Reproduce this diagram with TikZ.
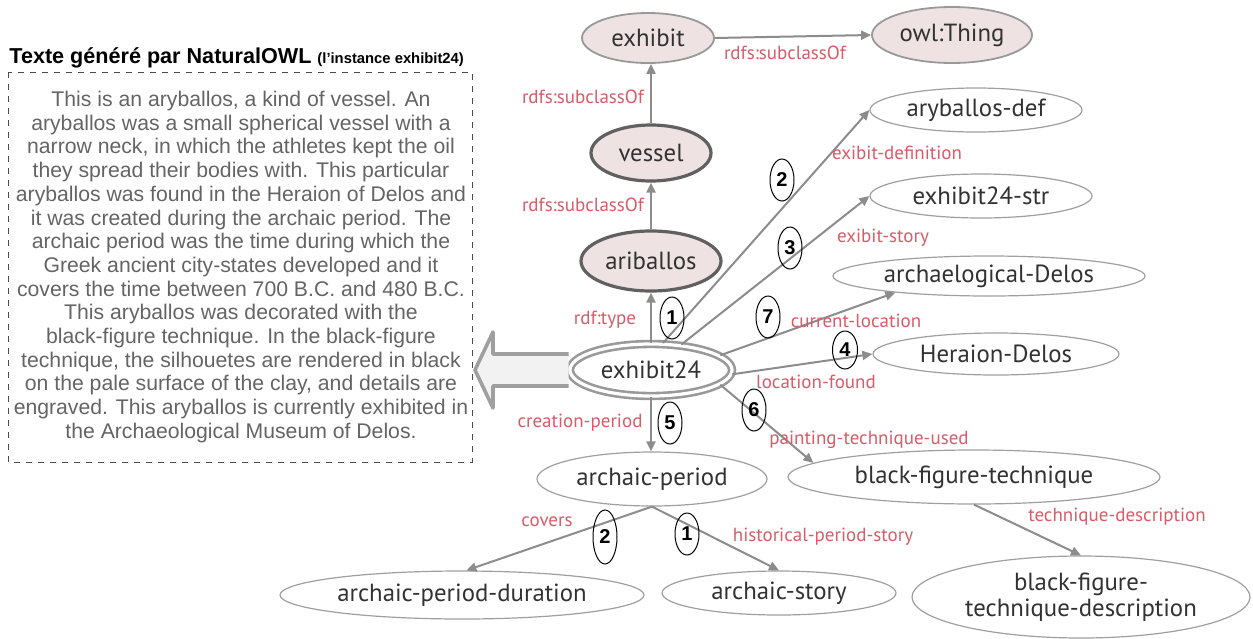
\documentclass[tikz,border=0pt]{standalone}
\usepackage{fontspec}
\setmainfont{Liberation Sans}
\newfontfamily\nodefont{PT Sans}
\usetikzlibrary{shapes.geometric,arrows.meta,calc}
\definecolor{clsfill}{RGB}{238,226,226}
\definecolor{edgegray}{RGB}{140,140,140}
\definecolor{lblred}{RGB}{214,92,104}
\definecolor{txtgray}{RGB}{100,100,100}
\definecolor{nodetxt}{RGB}{50,50,50}
\begin{document}
\begin{tikzpicture}[x=0.5pt,y=-0.5pt,
 base/.style={ellipse, inner sep=0pt, font=\nodefont\fontsize{12.4}{13}\selectfont, text=nodetxt, align=center},
 cls/.style={base, fill=clsfill, draw=gray!80, line width=0.9pt},
 clsb/.style={base, fill=clsfill, draw=gray!75!black, line width=1.6pt},
 inst/.style={base, fill=white, draw=gray!75, line width=0.6pt},
 numc/.style={ellipse, draw=black, line width=0.5pt, inner sep=0pt, minimum width=12pt, minimum height=21pt, font=\fontsize{10}{12}\selectfont\bfseries},
 lbl/.style={font=\nodefont\fontsize{9.5}{10}\selectfont, text=lblred, inner sep=0pt},
 edge/.style={draw=edgegray, line width=1pt, -{Triangle[length=5pt,width=4.5pt]}},
]
\useasboundingbox (0,0) rectangle (1253,638);

% text box
\node[anchor=south west, inner sep=0pt, font=\bfseries\fontsize{10.8}{12}\selectfont] (title) at (9,68)
  {Texte généré par NaturalOWL {\fontsize{7.4}{8}\selectfont (l'instance exhibit24)}};
\draw[dashed, line width=0.5pt, black!70] (8,72) rectangle (472,462);
\node[align=center, inner sep=0pt, text=txtgray, font=\fontsize{10.6}{11.85}\selectfont] (story) at (241,267)
 {This is an aryballos, a kind of vessel. An\\
 aryballos was a small spherical vessel with a\\
 narrow neck, in which the athletes kept the oil\\
 they spread their bodies with. This particular\\
 aryballos was found in the Heraion of Delos and\\
 it was created during the archaic period. The\\
 archaic period was the time during which the\\
 Greek ancient city-states developed and it\\
 covers the time between 700 B.C. and 480 B.C.\\
 This aryballos was decorated with the\\
 black-figure technique. In the black-figure\\
 technique, the silhouetes are rendered in black\\
 on the pale surface of the clay, and details are\\
 engraved. This aryballos is currently exhibited in\\
 the Archaeological Museum of Delos.};

% nodes
\node[cls, minimum width=66pt, minimum height=25pt] (exhibit) at (648,38) {exhibit};
\node[cls, minimum width=80pt, minimum height=28pt] (owl) at (952,35) {owl:Thing};
\node[clsb, minimum width=60pt, minimum height=28pt] (vessel) at (651,153) {vessel};
\node[clsb, minimum width=70pt, minimum height=30pt] (ariballos) at (651,261) {ariballos};
\node[base, fill=white, draw=gray!80, double=white, double distance=1.6pt, line width=1.3pt, minimum width=81pt, minimum height=26pt] (ex24) at (651,370) {exhibit24};
\node[inst, minimum width=106pt, minimum height=22pt] (arydef) at (976,110) {aryballos-def};
\node[inst, minimum width=111pt, minimum height=22pt] (ex24str) at (981,196) {exhibit24-str};
\node[inst, minimum width=156pt, minimum height=20pt] (archdelos) at (989,276) {archaelogical-Delos};
\node[inst, minimum width=123pt, minimum height=21pt] (heraion) at (996,354) {Heraion-Delos};
\node[inst, minimum width=115pt, minimum height=27pt] (archperiod) at (652,479) {archaic-period};
\node[inst, minimum width=186pt, minimum height=27pt] (bft) at (974,477) {black-figure-technique};
\node[inst, minimum width=182pt, minimum height=24pt] (apd) at (462,595) {archaic-period-duration};
\node[inst, minimum width=117pt, minimum height=22pt] (astory) at (779,593) {archaic-story};
\node[inst, minimum width=169pt, minimum height=41pt] (bftd) at (1081,597) {black-figure-\\technique-description};

% edges
\draw[edge] (exhibit.east) -- (owl.west);
\draw[edge] (vessel.north) -- (vessel.north |- exhibit.south);
\draw[edge] (ariballos) -- (vessel);
\draw[edge] (ex24) -- (ariballos);
\draw[edge] (ex24.66) -- (arydef.west);
\draw[edge] (ex24.40) -- (ex24str.west);
\draw[edge] (ex24.12) -- (archdelos.190);
\draw[edge] (ex24.-3) -- (heraion.west);
\draw[edge] (ex24.south) -- (ex24.south |- archperiod.north);
\draw[edge] (ex24.-12) -- (bft.175);
\draw[edge] (archperiod.south) -- (apd.80);
\draw[edge] (archperiod.south) -- (astory.north);
\draw[edge] (bft.south) -- (bftd.north);

% big arrow to text
\coordinate (tip) at (475,370);
\draw[gray!75, line width=1.8pt, fill=gray!10, line join=round]
  ([yshift=-8]ex24.west) -- ([yshift=-8]tip -| 493,0) -- ([yshift=-19]tip -| 493,0) -- (tip)
  -- ([yshift=19]tip -| 493,0) -- ([yshift=8]tip -| 493,0) -- ([yshift=8]ex24.west);

% edge labels
\node[lbl] (l1) at (785,53) {rdfs:subclassOf};
\node[lbl] (l2) at (583,97) {rdfs:subclassOf};
\node[lbl] (l3) at (583,205) {rdfs:subclassOf};
\node[lbl] (l4) at (605,320) {rdf:type};
\node[lbl] (l5) at (897,153) {exibit-definition};
\node[lbl] (l6) at (883,238) {exibit-story};
\node[lbl] (l7) at (856,321) {current-location};
\node[lbl] (l8) at (816,382) {location-found};
\node[lbl] (l9) at (580,423) {creation-period};
\node[lbl] (l10) at (869,440) {painting-technique-used};
\node[lbl] (l11) at (1117,517) {technique-description};
\node[lbl] (l12) at (547,522) {covers};
\node[lbl] (l13) at (823,537) {historical-period-story};

% order numbers
\node[numc] (n1) at (672,318) {1};
\node[numc] (n2) at (782,180) {2};
\node[numc] (n3) at (790,248) {3};
\node[numc] (n7) at (768,317) {7};
\node[numc, minimum width=12.5pt, minimum height=19pt] (n4) at (845,350) {4};
\node[numc] (n5) at (670,423) {5};
\node[numc] (n6) at (754,410) {6};
\node[numc, minimum height=27pt] (m2) at (605,537) {2};
\node[numc] (m1) at (687,534) {1};
\end{tikzpicture}
\end{document}
